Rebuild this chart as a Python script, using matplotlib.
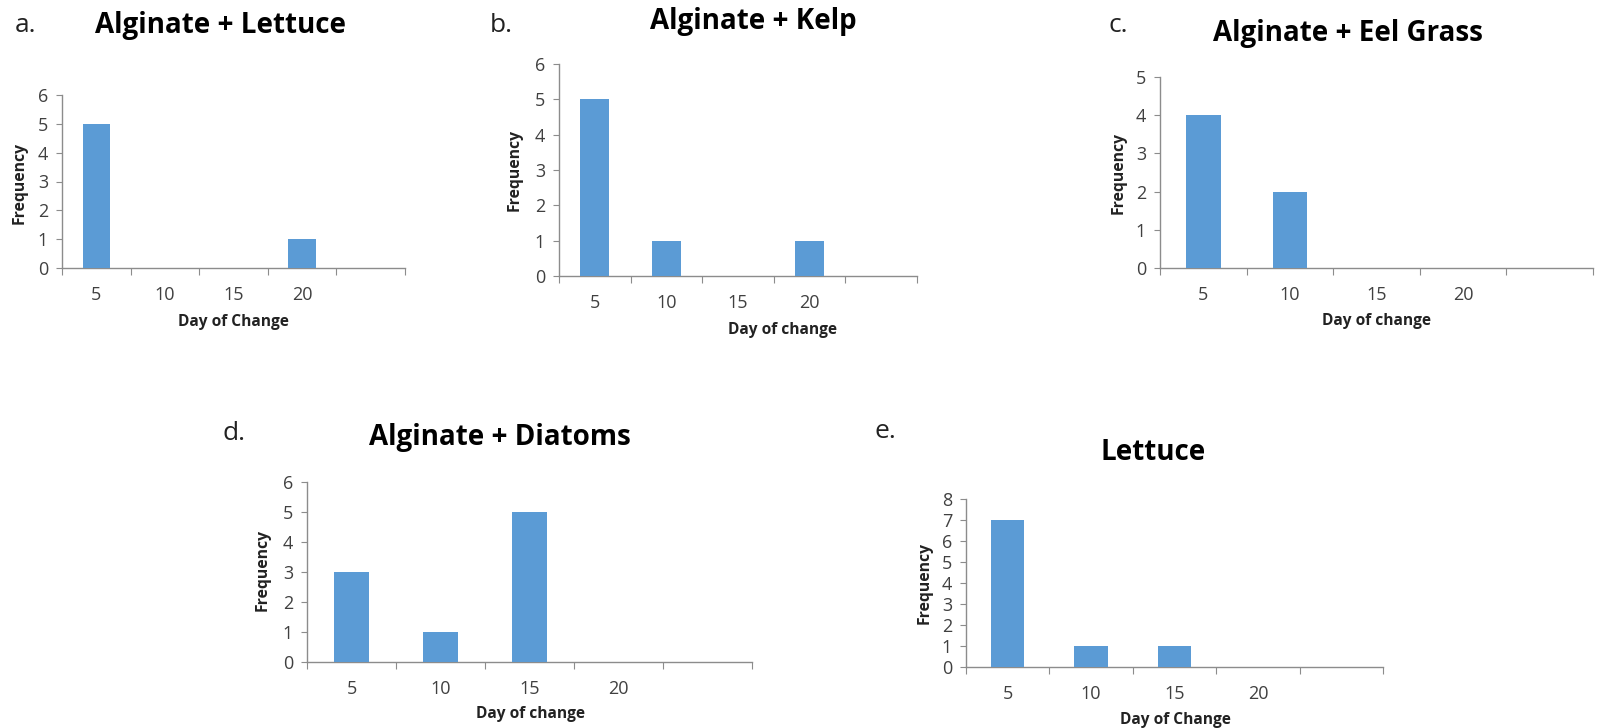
import matplotlib
matplotlib.use("Agg")
import matplotlib.pyplot as plt

plt.rcParams['font.family'] = ['Open Sans', 'DejaVu Sans']

W, H = 1600, 728

# data
days = ['5', '10', '15', '20', '']
freq_a = [5, 0, 0, 1, 0]
freq_b = [5, 1, 0, 1, 0]
freq_c = [4, 2, 0, 0, 0]
freq_d = [3, 1, 5, 0, 0]
freq_e = [7, 1, 1, 0, 0]

titles = ['Alginate + Lettuce', 'Alginate + Kelp', 'Alginate + Eel Grass',
          'Alginate + Diatoms', 'Lettuce']
letters = ['a.', 'b.', 'c.', 'd.', 'e.']
xlabels = ['Day of Change', 'Day of change', 'Day of change',
           'Day of change', 'Day of Change']
ymax = [6, 6, 5, 6, 8]
series = [freq_a, freq_b, freq_c, freq_d, freq_e]

# panel boxes in pixels: left, right, top, bottom(zero line)
boxes = [(62, 405, 95, 268), (559, 917, 64, 276), (1160, 1593, 77, 268),
         (307, 752, 482, 662), (966, 1383, 499, 667)]
# title (x, y), letter (x, y), xlabel (x, y), ylabel (x, y)
title_pos = [(220, 25), (753, 22), (1348, 33), (500, 438), (1153, 453)]
letter_pos = [(15, 25), (490, 25), (1108, 25), (222, 433), (875, 432)]
xlab_pos = [(233, 322), (782, 330), (1377, 321), (530, 714), (1175, 720)]
ylab_pos = [(20, 183), (515, 170), (1119, 173), (263, 570), (925, 583)]

bar_col = '#5B9BD5'
axis_col = '#8c8c8c'
txt_col = '#404040'

fig = plt.figure(figsize=(16, 7.28), dpi=100)


def fx(x):
    return x / W


def fy(y):
    return 1 - y / H


for i in range(5):
    l, r, t, b = boxes[i]
    ax = fig.add_axes([fx(l), fy(b), fx(r) - fx(l), fy(t) - fy(b)])
    pos = [k + 0.5 for k in range(len(days))]
    ax.bar(pos, series[i], width=0.4, color=bar_col, zorder=3)
    ax.set_xlim(0, len(days))
    ax.set_ylim(0, ymax[i])
    ax.set_yticks(range(ymax[i] + 1))
    ax.set_xticks(range(len(days) + 1))
    ax.set_xticklabels([])
    ax.set_xticks(pos, minor=True)
    ax.set_xticklabels(days, minor=True)
    ax.tick_params(axis='x', which='major', length=5, color=axis_col, direction='out')
    ax.tick_params(axis='x', which='minor', length=0, pad=13, labelsize=13, labelcolor=txt_col)
    ax.tick_params(axis='y', length=4, color=axis_col, labelsize=13, labelcolor=txt_col, pad=6)
    for s in ['top', 'right']:
        ax.spines[s].set_visible(False)
    for s in ['left', 'bottom']:
        ax.spines[s].set_color(axis_col)
        ax.spines[s].set_linewidth(1)
    ax.patch.set_alpha(0)

    fig.text(fx(title_pos[i][0]), fy(title_pos[i][1]), titles[i], ha='center', va='center',
             fontsize=20, fontweight='bold', color='black')
    fig.text(fx(letter_pos[i][0]), fy(letter_pos[i][1]), letters[i], ha='left', va='center',
             fontsize=19, color='#222222')
    fig.text(fx(xlab_pos[i][0]), fy(xlab_pos[i][1]), xlabels[i], ha='center', va='center',
             fontsize=11.2, fontweight='bold', color='#222222')
    fig.text(fx(ylab_pos[i][0]), fy(ylab_pos[i][1]), 'Frequency', ha='center', va='center',
             rotation=90, fontsize=11.3, fontweight='bold', color='#222222')

fig.savefig('out.png', dpi=100)
